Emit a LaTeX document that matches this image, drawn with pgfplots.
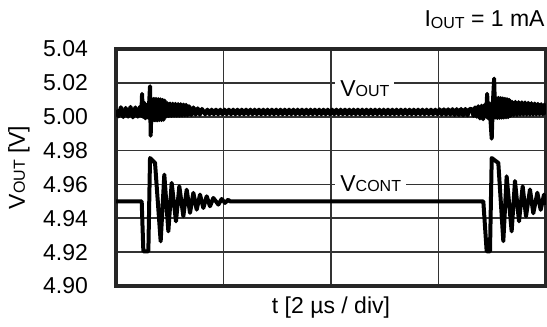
\documentclass[border=0pt]{standalone}
\usepackage{fontspec}
\setmainfont{Liberation Sans}
\usepackage{pgfplots}
\pgfplotsset{compat=1.18}

\newcommand{\sub}[1]{{\fontsize{8}{9}\selectfont #1}}

\begin{document}
\fontsize{11.5}{13.8}\selectfont
\begin{tikzpicture}
  \begin{axis}[
      scale only axis,
      width = 215pt,
      height = 118.5pt,
      xmin = 0, xmax = 8,
      ymin = 4.90, ymax = 5.04,
      xtick = {0,2,4,6,8},
      xticklabels = {},
      ytick = {4.90,4.92,4.94,4.96,4.98,5.00,5.02,5.04},
      yticklabel style = {/pgf/number format/fixed,
                          /pgf/number format/precision=2,
                          /pgf/number format/fixed zerofill,
                          xshift=-10pt},
      /pgf/number format/assume math mode=true,
      major tick length = 0pt,
      grid = major,
      major grid style = {line width=0.8pt, black!80},
      axis line style = {line width=1.6pt, black!85},
      xlabel = {t [2 µs / div]},
      xlabel style = {at={(axis description cs:0.5,-0.09)}, anchor=center},
      ylabel = {V\sub{OUT} [V]},
      ylabel style = {at={(axis description cs:-0.2256,0.5)}, anchor=center},
      clip = true,
  ]
  % V_CONT
  \addplot[black, line width=2pt, line join=round] coordinates {
    (0,4.950) (0.478,4.950) (0.509,4.9205) (0.602,4.9205) (0.633,4.9756)
    (0.726,4.9727) (0.831,4.9264) (0.899,4.9658) (0.974,4.9323) (1.036,4.9609)
    (1.116,4.9382) (1.178,4.9589) (1.253,4.9412) (1.315,4.9569) (1.377,4.9432)
    (1.439,4.9550) (1.501,4.9451) (1.563,4.9540) (1.625,4.9461) (1.687,4.9530)
    (1.749,4.9471) (1.811,4.9520) (1.904,4.9481) (1.966,4.9514) (2.028,4.9491)
    (2.090,4.9510) (2.121,4.950)
    (6.834,4.950) (6.896,4.9205) (6.958,4.9205) (6.990,4.9756) (7.113,4.9727)
    (7.206,4.9265) (7.268,4.9648) (7.361,4.9323) (7.423,4.9620) (7.498,4.9382)
    (7.566,4.9589) (7.628,4.9412) (7.702,4.9570) (7.764,4.9430) (7.839,4.9551)
    (7.901,4.9450) (7.963,4.9540) (8.000,4.9480)
  };
  % V_OUT
  \addplot[black, line width=2pt, line join=round] coordinates {
    (0.00,5.0040) (0.045,5.0002) (0.09,5.0056) (0.135,4.9998) (0.18,5.0052)
    (0.225,5.0000) (0.27,5.0058) (0.315,4.9996) (0.36,5.0055) (0.405,5.0000)
    (0.45,5.0060)
    (0.47,5.0005) (0.485,5.0135) (0.50,5.0000) (0.52,5.0085) (0.545,4.9990)
    (0.57,5.0070) (0.595,4.9995) (0.615,5.0070) (0.633,5.0180) (0.645,4.9888)
    (0.665,5.0105) (0.685,4.9978) (0.705,5.0106) (0.725,4.9978) (0.745,5.0105)
    (0.765,4.9978) (0.785,5.0104) (0.805,4.9980) (0.825,5.0103) (0.845,4.9980)
    (0.865,5.0100) (0.885,4.9982) (0.905,5.0095) (0.93,5.0000) (0.955,5.0080)
    (0.98,5.0004) (1.005,5.0078) (1.03,5.0005) (1.055,5.0077) (1.08,5.0006)
    (1.105,5.0076) (1.13,5.0006) (1.155,5.0075) (1.18,5.0006) (1.205,5.0074)
    (1.23,5.0007) (1.255,5.0072) (1.28,5.0008) (1.305,5.0070) (1.33,5.0008)
    (1.36,5.0062) (1.40,5.0010) (1.44,5.0055) (1.48,5.0012) (1.52,5.0050)
    (1.56,5.0012) (1.60,5.0046)
    (1.66,5.0014) (1.70,5.0042) (1.74,5.0014) (1.78,5.0042)
    (1.82,5.0014) (1.86,5.0042) (1.90,5.0014) (1.94,5.0042) (1.98,5.0014)
    (2.02,5.0042) (2.06,5.0014) (2.10,5.0042) (2.14,5.0014) (2.18,5.0042)
    (2.22,5.0014) (2.26,5.0042) (2.30,5.0014) (2.34,5.0042) (2.38,5.0014)
    (2.42,5.0042) (2.46,5.0014) (2.50,5.0042) (2.54,5.0014) (2.58,5.0042)
    (2.62,5.0014) (2.66,5.0042) (2.70,5.0014) (2.74,5.0042) (2.78,5.0014)
    (2.82,5.0042) (2.86,5.0014) (2.90,5.0042) (2.94,5.0014) (2.98,5.0042)
    (3.02,5.0014) (3.06,5.0042) (3.10,5.0014) (3.14,5.0042) (3.18,5.0014)
    (3.22,5.0042) (3.26,5.0014) (3.30,5.0042) (3.34,5.0014) (3.38,5.0042)
    (3.42,5.0014) (3.46,5.0042) (3.50,5.0014) (3.54,5.0042) (3.58,5.0014)
    (3.62,5.0042) (3.66,5.0014) (3.70,5.0042) (3.74,5.0014) (3.78,5.0042)
    (3.82,5.0014) (3.86,5.0042) (3.90,5.0014) (3.94,5.0042) (3.98,5.0014)
    (4.02,5.0042) (4.06,5.0014) (4.10,5.0042) (4.14,5.0014) (4.18,5.0042)
    (4.22,5.0014) (4.26,5.0042) (4.30,5.0014) (4.34,5.0042) (4.38,5.0014)
    (4.42,5.0042) (4.46,5.0014) (4.50,5.0042) (4.54,5.0014) (4.58,5.0042)
    (4.62,5.0014) (4.66,5.0042) (4.70,5.0014) (4.74,5.0042) (4.78,5.0014)
    (4.82,5.0042) (4.86,5.0014) (4.90,5.0042) (4.94,5.0014) (4.98,5.0042)
    (5.02,5.0014) (5.06,5.0042) (5.10,5.0014) (5.14,5.0042) (5.18,5.0014)
    (5.22,5.0042) (5.26,5.0014) (5.30,5.0042) (5.34,5.0014) (5.38,5.0042)
    (5.42,5.0014) (5.46,5.0042) (5.50,5.0014) (5.54,5.0042) (5.58,5.0014)
    (5.62,5.0042) (5.66,5.0014) (5.70,5.0042) (5.74,5.0014) (5.78,5.0042)
    (5.82,5.0014) (5.86,5.0042) (5.90,5.0014) (5.94,5.0042) (5.98,5.0014)
    (6.02,5.0044) (6.06,5.0012) (6.10,5.0044) (6.14,5.0012) (6.18,5.0044)
    (6.22,5.0012) (6.26,5.0045) (6.30,5.0010) (6.34,5.0045) (6.38,5.0010)
    (6.42,5.0046) (6.46,5.0008) (6.50,5.0046) (6.54,5.0008) (6.58,5.0046)
    (6.62,5.0045) (6.65,5.0005) (6.68,5.0055) (6.71,5.0000) (6.74,5.0062)
    (6.77,4.9990) (6.80,5.0065) (6.83,4.9985) (6.86,5.0070) (6.885,5.0000)
    (6.905,5.0135) (6.925,4.9990) (6.945,5.0080) (6.965,4.9990) (6.99,4.9870)
    (7.01,5.0070) (7.035,5.0225) (7.055,4.9995) (7.075,5.0110) (7.095,4.9992)
    (7.115,5.0112) (7.135,4.9993) (7.155,5.0110) (7.175,4.9994) (7.195,5.0108)
    (7.215,4.9995) (7.235,5.0106) (7.255,4.9996) (7.275,5.0104) (7.295,4.9997)
    (7.315,5.0100) (7.34,5.0005) (7.37,5.0088) (7.40,5.0010) (7.43,5.0088)
    (7.46,5.0010) (7.49,5.0086) (7.52,5.0012) (7.55,5.0085) (7.58,5.0012)
    (7.61,5.0084) (7.64,5.0012) (7.67,5.0082) (7.70,5.0012) (7.73,5.0080)
    (7.76,5.0012) (7.79,5.0078) (7.82,5.0013) (7.85,5.0076) (7.88,5.0013)
    (7.91,5.0074) (7.94,5.0013) (7.97,5.0072) (8.00,5.0013)
  };

  % trace labels
  \node[fill=white, anchor=base west, inner xsep=2.5pt, inner ysep=1.5pt]
    at (axis cs:4.074,5.012) {V\sub{OUT}};
  \node[fill=white, anchor=base west, inner xsep=2.5pt, inner ysep=1.5pt]
    at (axis cs:4.074,4.956) {V\sub{CONT}};
  \end{axis}

  \node[anchor=base east, inner sep=0pt]
    at ([shift={(-0.5pt,11.2pt)}]current axis.north east)
    {I\raisebox{-1pt}{\sub{OUT}} = 1 mA};

  \pgfresetboundingbox
  \path ([shift={(-58pt,-20pt)}]current axis.south west)
    rectangle ([shift={(0.5pt,24.5pt)}]current axis.north east);
\end{tikzpicture}
\end{document}
